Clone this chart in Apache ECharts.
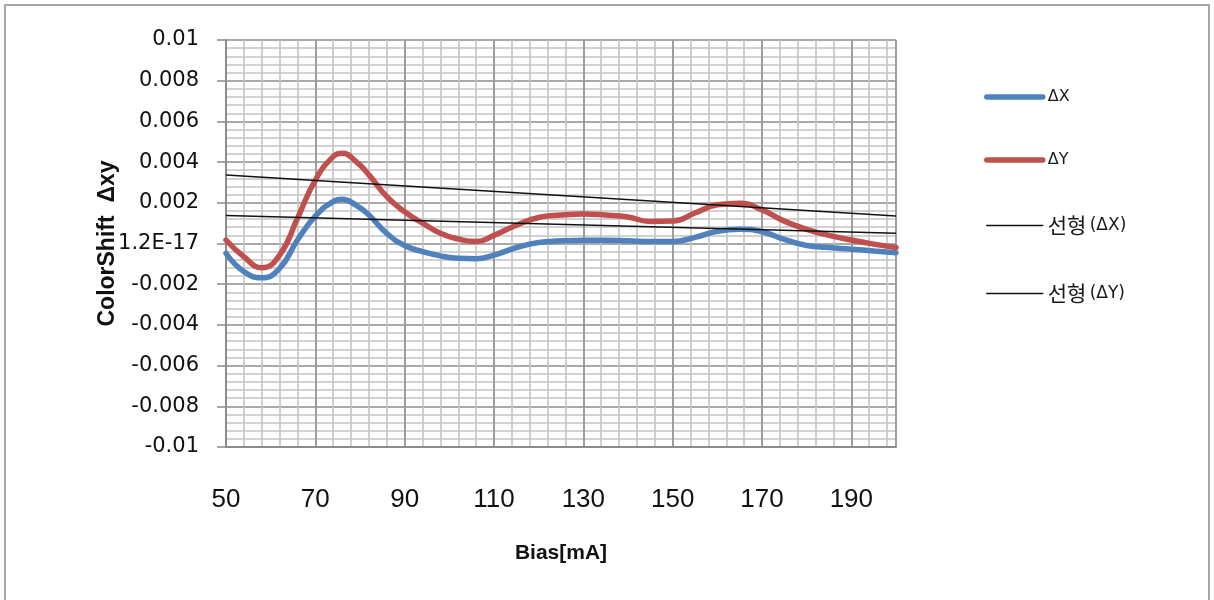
<!DOCTYPE html>
<html>
<head>
<meta charset="utf-8">
<script src="https://cdn.jsdelivr.net/npm/echarts@6/dist/echarts.min.js"></script>
<style>
html,body{margin:0;padding:0;background:#fff;}
#c{width:1214px;height:600px;}
</style>
</head>
<body>
<div id="c"></div>
<script>
// Bias [mA]
const biasX = [50,54,58,62,66,70,74,76,79,82,86,90,94,98,102,106,110,115,120,125,130,135,140,145,150,155,160,165,170,175,180,185,190,195,200];
// ΔX (blue)
const deltaX = [-0.00048,-0.00138,-0.00168,-0.00122,0.00017,0.00135,0.00206,0.00217,0.0019,0.0014,0.0005,-0.0001,-0.0004,-0.00061,-0.00073,-0.00075,-0.00057,-0.0002,0.00005,0.00013,0.00016,0.00016,0.00013,0.0001,0.0001,0.0003,0.0006,0.0007,0.00058,0.0002,-0.0001,-0.0002,-0.00028,-0.00037,-0.00045];
// ΔY (red)
const deltaY = [0.00017,-0.00065,-0.00119,-0.00057,0.00124,0.00312,0.00427,0.00443,0.00405,0.00337,0.0023,0.00156,0.001,0.0005,0.00022,0.0001,0.0004,0.0009,0.00128,0.0014,0.00145,0.0014,0.0013,0.00108,0.0011,0.0015,0.0019,0.00198,0.00165,0.0011,0.0007,0.0004,0.00017,-0.00003,-0.0002];
// linear trend end points
const trendX = [50,200];
const trendDX = [0.00137,0.0005];
const trendDY = [0.00337,0.00135];

const names = ['ΔX','ΔY','선형 (ΔX)','선형 (ΔY)'];
const xMin = 50, xMax = 200;
const zip = (xs, ys) => xs.map((x,i)=>[x, ys[i]]);

const chart = echarts.init(document.getElementById('c'));
chart.setOption({
  backgroundColor:'#fff',
  animation:false,
  graphic:[{type:'rect', shape:{x:5,y:5,width:1204,height:700}, style:{fill:'none', stroke:'#a6a6a6', lineWidth:2}, silent:true}],
  grid:{left:226, right:318, top:40, bottom:153, containLabel:false},
  legend:{
    orient:'vertical', left:979, top:84, itemWidth:56, itemHeight:14, itemGap:47,
    data:names,
    itemStyle:{opacity:0},
    lineStyle:{width:'inherit', cap:'round'},
    formatter: n => n.startsWith('선형') ? '{k|선형} {p|' + n.slice(3) + '}' : '{d|' + n + '}',
    textStyle:{
      color:'#1a1a1a',
      rich:{
        d:{fontSize:16, fontFamily:'DejaVu Sans', color:'#1a1a1a'},
        k:{fontSize:21, fontFamily:'Noto Sans CJK KR', color:'#1a1a1a'},
        p:{fontSize:17, fontFamily:'DejaVu Sans', color:'#1a1a1a'}
      }
    }
  },
  xAxis:[
    {type:'value', min:xMin, max:xMax, show:false, gridIndex:0},
    {type:'value', min:0, max:xMax-xMin, interval:4, position:'bottom',
      axisLine:{show:false}, axisTick:{show:false}, axisLabel:{show:false},
      splitLine:{show:true, lineStyle:{color:'#c3c3c3', width:1.6}}},
    {type:'value', min:0, max:xMax-xMin, interval:20, position:'bottom',
      name:'Bias[mA]', nameLocation:'middle', nameGap:96, nameMoveOverlap:false,
      nameTextStyle:{fontFamily:'Liberation Sans', fontWeight:'bold', fontSize:21, color:'#111'},
      axisLine:{show:true, lineStyle:{color:'#8c8c8c', width:2}},
      axisTick:{show:false},
      axisLabel:{margin:40, showMaxLabel:false, fontFamily:'Liberation Sans', fontSize:26, color:'#111',
        formatter: v => (v >= xMax - xMin) ? '' : String(v + xMin)},
      splitLine:{show:true, lineStyle:{color:'#8c8c8c', width:1.5}}}
  ],
  yAxis:{
    type:'value', min:-0.01, max:0.01, interval:0.002,
    name:'ColorShift  Δxy', nameLocation:'middle', nameGap:107, nameRotate:90, nameMoveOverlap:false,
    nameTextStyle:{fontFamily:'Liberation Sans', fontWeight:'bold', fontSize:23, color:'#111'},
    axisLine:{show:true, lineStyle:{color:'#8c8c8c', width:2}},
    axisTick:{show:true, inside:false, length:9, lineStyle:{color:'#8c8c8c', width:1.5}},
    axisLabel:{margin:27, fontFamily:'DejaVu Sans', fontSize:21, color:'#111',
      formatter: v => Math.abs(v) < 1e-9 ? '1.2E-17' : String(parseFloat(v.toFixed(4)))},
    splitLine:{show:true, lineStyle:{color:'#8c8c8c', width:1.5}},
    minorTick:{show:false, splitNumber:5},
    minorSplitLine:{show:true, lineStyle:{color:'#c3c3c3', width:1.6}}
  },
  series:[
    {name:names[0], type:'line', xAxisIndex:0, data:zip(biasX, deltaX), smooth:0.5, showSymbol:false, symbol:'none',
      lineStyle:{color:'#4f81bd', width:5.5, cap:'round'}, itemStyle:{color:'#4f81bd'}, z:3},
    {name:names[1], type:'line', xAxisIndex:0, data:zip(biasX, deltaY), smooth:0.5, showSymbol:false, symbol:'none',
      lineStyle:{color:'#c0504d', width:5.5, cap:'round'}, itemStyle:{color:'#c0504d'}, z:3},
    {name:names[2], type:'line', xAxisIndex:0, data:zip(trendX, trendDX), showSymbol:false, symbol:'none',
      lineStyle:{color:'#111', width:1.5}, itemStyle:{color:'#111'}, z:4},
    {name:names[3], type:'line', xAxisIndex:0, data:zip(trendX, trendDY), showSymbol:false, symbol:'none',
      lineStyle:{color:'#111', width:1.5}, itemStyle:{color:'#111'}, z:4}
  ]
});
</script>
</body>
</html>
